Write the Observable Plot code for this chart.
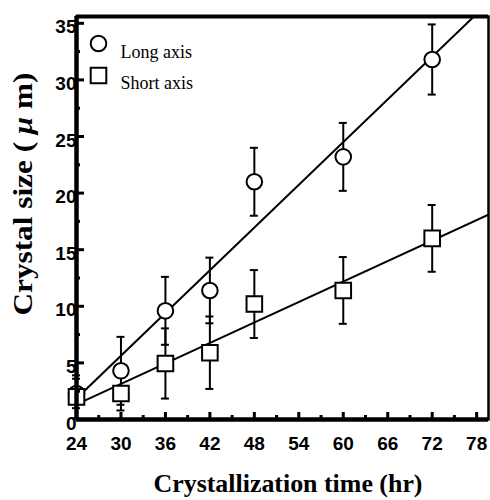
<!DOCTYPE html>
<html><head><meta charset="utf-8">
<script src="https://cdn.jsdelivr.net/npm/d3@7"></script>
<script src="https://cdn.jsdelivr.net/npm/@observablehq/plot@0.6"></script>
<style>body{margin:0;background:#fff}#chart svg{display:block}</style>
</head><body><div id="chart"></div>
<script>
const hours = [24, 30, 36, 42, 48, 60, 72];
const longAxis = [2.3, 4.3, 9.6, 11.4, 21.0, 23.2, 31.8];
const longErr = [1.3, 3.0, 3.0, 2.9, 3.0, 3.0, 3.1];
const shortAxis = [2.0, 2.3, 4.95, 5.9, 10.2, 11.4, 16.0];
const shortErr = [1.9, 1.5, 3.1, 3.2, 3.0, 2.95, 2.95];
const seriesNames = ["Long axis", "Short axis"];
const xTicks = [24, 30, 36, 42, 48, 54, 60, 66, 72, 78];
const xMinor = [27, 33, 39, 45, 51, 57, 63, 69, 75];
const yTicks = [0, 5, 10, 15, 20, 25, 30, 35];
const yMinor = [2.5, 7.5, 12.5, 17.5, 22.5, 27.5, 32.5];
const xDomain = [24, 79.6];
const yDomain = [0, 35.6];
const xTitle = "Crystallization time (hr)";
const yTitleParts = ["Crystal size ( ", "\u03bc", " m)"];

function rows(vals, errs, name) {
  return hours.map((h, i) => ({x: h, y: vals[i], lo: vals[i] - errs[i], hi: vals[i] + errs[i], s: name}));
}
const longData = rows(longAxis, longErr, seriesNames[0]);
const shortData = rows(shortAxis, shortErr, seriesNames[1]);

function fitLine(data) {
  const mx = d3.mean(data, d => d.x), my = d3.mean(data, d => d.y);
  const b = d3.sum(data, d => (d.x - mx) * (d.y - my)) / d3.sum(data, d => (d.x - mx) ** 2);
  const a = my - b * mx;
  return xDomain.map(x => ({x, y: a + b * x}));
}

const errMarks = (data) => [
  Plot.ruleX(data, {x: "x", y1: "lo", y2: "hi", stroke: "black", strokeWidth: 2}),
  Plot.ruleY(data, {y: "hi", x1: "x", x2: "x", insetLeft: -4, insetRight: -4, stroke: "black", strokeWidth: 2}),
  Plot.ruleY(data, {y: "lo", x1: "x", x2: "x", insetLeft: -4, insetRight: -4, stroke: "black", strokeWidth: 2})
];

const tickFont = {fontFamily: "Liberation Sans", fontWeight: "bold", fontSize: 19};

const chart = Plot.plot({
  width: 490, height: 500,
  marginLeft: 76, marginRight: 2, marginTop: 16, marginBottom: 81,
  style: {background: "white", color: "black"},
  x: {domain: xDomain, axis: null},
  y: {domain: yDomain, axis: null},
  marks: [
    Plot.line(fitLine(longData), {x: "x", y: "y", stroke: "black", strokeWidth: 2, clip: true}),
    Plot.line(fitLine(shortData), {x: "x", y: "y", stroke: "black", strokeWidth: 2, clip: true}),
    ...errMarks(longData),
    ...errMarks(shortData),
    Plot.dot(longData, {x: "x", y: "y", r: 7.8, symbol: "circle", fill: "white", stroke: "black", strokeWidth: 2}),
    Plot.dot(shortData, {x: "x", y: "y", r: 8.8, symbol: "square", fill: "white", stroke: "black", strokeWidth: 2}),
    // frame
    Plot.frame({stroke: "black", strokeWidth: 2.5}),
    Plot.ruleY([yDomain[1]], {stroke: "black", strokeWidth: 4}),
    Plot.ruleY([yDomain[0]], {stroke: "black", strokeWidth: 4.5}),
    Plot.ruleX([xDomain[0]], {stroke: "black", strokeWidth: 4.5}),
    // ticks (inward)
    Plot.axisX({ticks: xTicks, anchor: "bottom", tickSize: 7, dy: -7, text: null, label: null, strokeWidth: 3}),
    Plot.axisX({ticks: xMinor, anchor: "bottom", tickSize: 4, dy: -4, text: null, label: null, strokeWidth: 3}),
    Plot.axisY({ticks: yTicks, anchor: "left", tickSize: 8, dx: 8, text: null, label: null, strokeWidth: 3}),
    Plot.axisY({ticks: yMinor, anchor: "left", tickSize: 4, dx: 4, text: null, label: null, strokeWidth: 3}),
    // tick labels
    Plot.axisX({ticks: xTicks, anchor: "bottom", tickSize: 0, tickPadding: 17, label: null, tickFormat: d => String(d), ...tickFont}),
    Plot.axisY({ticks: yTicks, anchor: "left", tickSize: 0, tickPadding: 0, dy: 4, label: null, tickFormat: d => String(d), ...tickFont}),
    // legend
    Plot.dot([seriesNames[0]], {frameAnchor: "top-left", dx: 22, dy: 27, r: 7.8, symbol: "circle", fill: "white", stroke: "black", strokeWidth: 2}),
    Plot.dot([seriesNames[1]], {frameAnchor: "top-left", dx: 22, dy: 59, r: 8.8, symbol: "square", fill: "white", stroke: "black", strokeWidth: 2}),
    Plot.text([seriesNames[0]], {frameAnchor: "top-left", dx: 44, dy: 36, text: d => d, textAnchor: "start", lineAnchor: "middle", fontFamily: "Liberation Serif", fontSize: 18, fill: "black"}),
    Plot.text([seriesNames[1]], {frameAnchor: "top-left", dx: 44, dy: 67, text: d => d, textAnchor: "start", lineAnchor: "middle", fontFamily: "Liberation Serif", fontSize: 18, fill: "black"})
  ]
});

const svg = d3.select(chart);
svg.append("text")
  .attr("x", 288).attr("y", 492)
  .attr("text-anchor", "middle")
  .attr("font-family", "Liberation Serif").attr("font-weight", "bold").attr("font-size", 26)
  .attr("textLength", 269).attr("lengthAdjust", "spacingAndGlyphs")
  .attr("fill", "black")
  .text(xTitle);
const yt = svg.append("text")
  .attr("transform", "translate(32,194) rotate(-90)")
  .attr("text-anchor", "middle")
  .attr("font-family", "Liberation Serif").attr("font-weight", "bold").attr("font-size", 27)
  .attr("textLength", 243).attr("lengthAdjust", "spacingAndGlyphs")
  .attr("fill", "black");
yt.append("tspan").text(yTitleParts[0]);
yt.append("tspan").attr("font-style", "italic").text(yTitleParts[1]);
yt.append("tspan").text(yTitleParts[2]);

document.getElementById("chart").appendChild(chart);
</script>
</body></html>
